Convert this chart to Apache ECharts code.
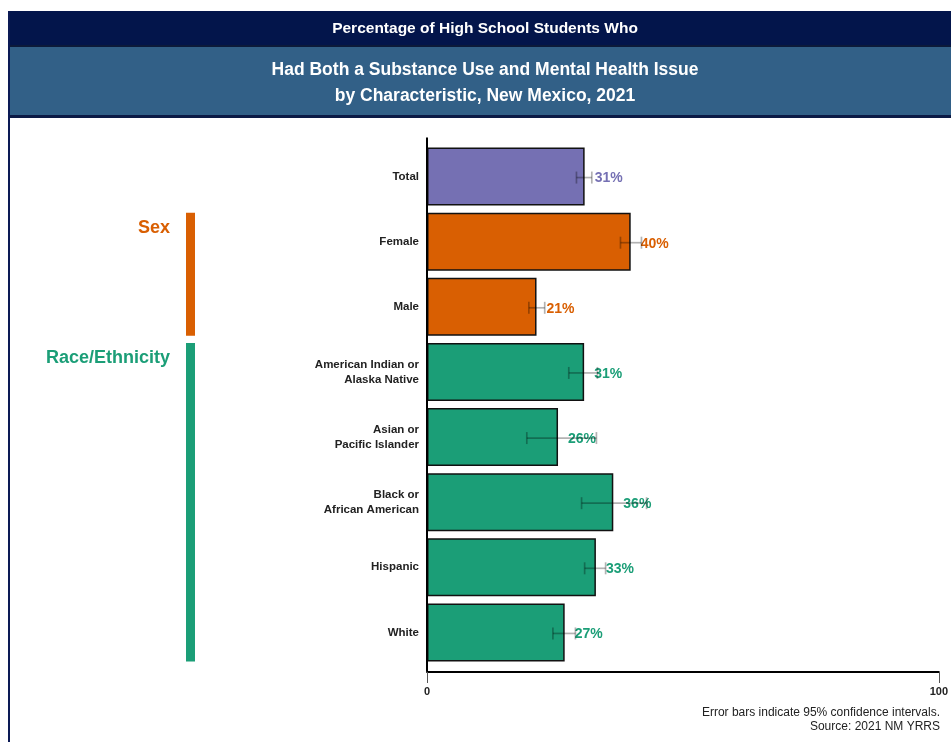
<!DOCTYPE html>
<html>
<head>
<meta charset="utf-8">
<script src="https://cdn.jsdelivr.net/npm/echarts@6/dist/echarts.min.js"></script>
<style>
html,body{margin:0;padding:0;background:#fff;}
#chart{width:951px;height:742px;}
</style>
</head>
<body>
<div id="chart"></div>
<script>
// ---- data ----
var categories = ['Total', 'Female', 'Male', 'American Indian or\nAlaska Native', 'Asian or\nPacific Islander', 'Black or\nAfrican American', 'Hispanic', 'White'];
var values     = [30.8, 39.8, 21.4, 30.7, 25.6, 36.4, 33.0, 26.9];
var ciLow      = [29.2, 37.8, 19.9, 27.7, 19.5, 30.2, 30.8, 24.6];
var ciHigh     = [32.2, 41.9, 23.0, 33.3, 33.1, 42.9, 34.9, 29.0];
var groupOf    = ['total', 'sex', 'sex', 'race', 'race', 'race', 'race', 'race'];
var groupNames = ['Sex', 'Race/Ethnicity'];
var groupKeys  = ['sex', 'race'];
var xTicks     = [0, 100];

var colors = { total: '#7570b3', sex: '#d95f02', race: '#1b9e77' };
var FONT = '"Liberation Sans", Arial, sans-serif';

var chart = echarts.init(document.getElementById('chart'), null, { renderer: 'canvas' });

var barData = values.map(function (v, i) {
  var c = colors[groupOf[i]];
  return {
    value: v,
    itemStyle: { color: c },
    label: { color: c }
  };
});
var errData = values.map(function (v, i) { return [ciLow[i], ciHigh[i], i]; });

var option = {
  animation: false,
  backgroundColor: '#fff',
  grid: { left: 427, right: 10, top: 144, bottom: 77, containLabel: false },
  xAxis: {
    type: 'value', min: xTicks[0], max: xTicks[xTicks.length - 1], interval: 100,
    offset: 7,
    axisLine: { show: true, lineStyle: { color: '#000', width: 2 } },
    axisTick: { show: true, length: 11, lineStyle: { color: '#555', width: 1 } },
    axisLabel: { margin: 14, color: '#222', fontSize: 11, fontWeight: 'bold', fontFamily: FONT },
    splitLine: { show: false }
  },
  yAxis: {
    type: 'category', data: categories, inverse: true,
    axisLine: { show: false }, axisTick: { show: false },
    axisLabel: { margin: 8, color: '#222', fontSize: 11.5, fontWeight: 'bold', fontFamily: FONT, lineHeight: 15, align: 'right' }
  },
  series: [
    {
      type: 'bar', data: barData, barWidth: 58,
      itemStyle: { borderColor: '#111', borderWidth: 1.5 },
      label: {
        show: true, position: 'right', distance: 10, offset: [0, 2],
        formatter: function (p) { return Math.round(p.value) + '%'; },
        fontSize: 14, fontWeight: 'bold', fontFamily: FONT
      },
      z: 2
    },
    {
      type: 'custom', data: errData, z: 5,
      renderItem: function (params, api) {
        var lo = api.coord([api.value(0), api.value(2)]);
        var hi = api.coord([api.value(1), api.value(2)]);
        var y = lo[1] + 1, h = 6;
        var st = { stroke: 'rgba(0,0,0,0.3)', lineWidth: 1.7 };
        return {
          type: 'group',
          children: [
            { type: 'line', shape: { x1: lo[0], y1: y, x2: hi[0], y2: y }, style: st },
            { type: 'line', shape: { x1: lo[0], y1: y - h, x2: lo[0], y2: y + h }, style: st },
            { type: 'line', shape: { x1: hi[0], y1: y - h, x2: hi[0], y2: y + h }, style: st }
          ]
        };
      }
    }
  ]
};
chart.setOption(option);

// ---- decorations (frame, header, group brackets, notes) ----
function px(cat) { return chart.convertToPixel({ gridIndex: 0 }, [0, cat]); }
var half = 58 / 2;
var g = [];
// header
g.push({ type: 'rect', shape: { x: 8, y: 11, width: 960, height: 35 }, style: { fill: '#03154b' }, z: 10 });
g.push({ type: 'rect', shape: { x: 8, y: 46, width: 960, height: 71 }, style: { fill: '#326087' }, z: 10 });
g.push({ type: 'rect', shape: { x: 8, y: 45, width: 960, height: 2 }, style: { fill: '#0c1a3a' }, z: 11 });
g.push({ type: 'rect', shape: { x: 8, y: 115, width: 960, height: 3 }, style: { fill: '#0c1a45' }, z: 11 });
g.push({ type: 'rect', shape: { x: 8, y: 11, width: 2, height: 740 }, style: { fill: '#0c1a55' }, z: 11 });
g.push({ type: 'text', x: 485, y: 29, style: { text: 'Percentage of High School Students Who', fill: '#fff', font: 'bold 15.5px ' + FONT, textAlign: 'center', textVerticalAlign: 'middle' }, z: 12 });
g.push({ type: 'text', x: 485, y: 70, style: { text: 'Had Both a Substance Use and Mental Health Issue', fill: '#fff', font: 'bold 17.5px ' + FONT, textAlign: 'center', textVerticalAlign: 'middle' }, z: 12 });
g.push({ type: 'text', x: 485, y: 96, style: { text: 'by Characteristic, New Mexico, 2021', fill: '#fff', font: 'bold 17.5px ' + FONT, textAlign: 'center', textVerticalAlign: 'middle' }, z: 12 });
// vertical axis line extended
var first = px(categories[0]), last = px(categories[categories.length - 1]);
g.push({ type: 'line', shape: { x1: first[0], y1: first[1] - half - 10, x2: first[0], y2: last[1] + half + 10 }, style: { stroke: '#000', lineWidth: 2 }, z: 6 });
// group brackets
groupKeys.forEach(function (key, k) {
  var idx = [];
  groupOf.forEach(function (gk, i) { if (gk === key) idx.push(i); });
  var top = px(categories[idx[0]])[1] - half;
  var bot = px(categories[idx[idx.length - 1]])[1] + half;
  g.push({ type: 'rect', shape: { x: 186, y: top, width: 9, height: bot - top }, style: { fill: colors[key] }, z: 6 });
  g.push({ type: 'text', x: 170, y: top + 15, style: { text: groupNames[k], fill: colors[key], font: 'bold 18px ' + FONT, textAlign: 'right', textVerticalAlign: 'middle' }, z: 6 });
});
// notes
g.push({ type: 'text', x: 940, y: 713, style: { text: 'Error bars indicate 95% confidence intervals.', fill: '#222', font: '12px ' + FONT, textAlign: 'right', textVerticalAlign: 'middle' }, z: 6 });
g.push({ type: 'text', x: 940, y: 727, style: { text: 'Source: 2021 NM YRRS', fill: '#222', font: '12px ' + FONT, textAlign: 'right', textVerticalAlign: 'middle' }, z: 6 });
chart.setOption({ graphic: { elements: g } });
</script>
</body>
</html>
